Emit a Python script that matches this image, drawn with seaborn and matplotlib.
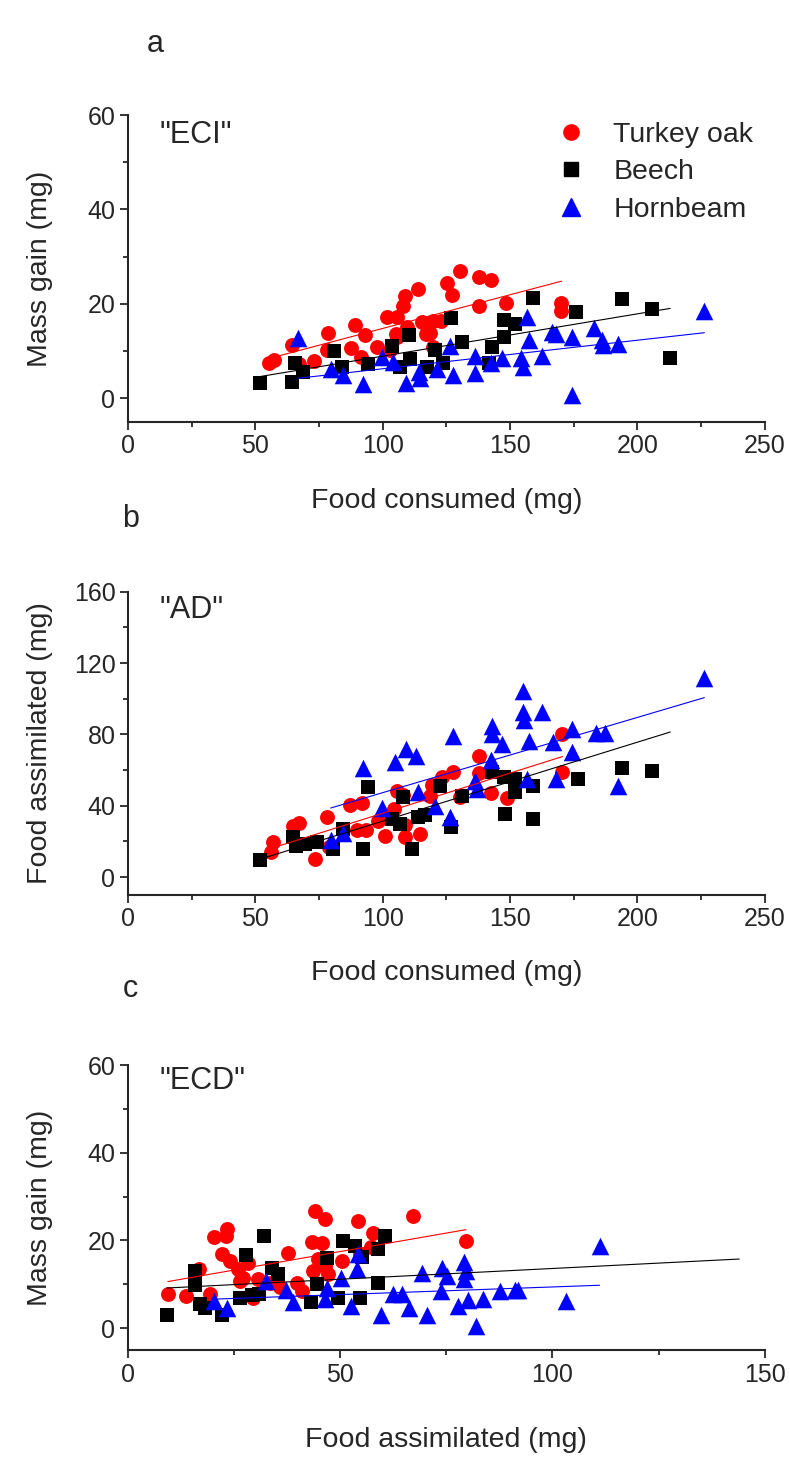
import numpy as np
import pandas as pd
import seaborn as sns
import matplotlib
matplotlib.use('Agg')
from matplotlib import pyplot as plt
from matplotlib.lines import Line2D
from matplotlib.ticker import MultipleLocator

# panel a, "ECI": mass gain vs food consumed
eci_oak_x = [55.3, 57.3, 64.3, 67.1, 72.9, 78.0, 78.4, 87.5, 89.0, 91.4, 92.9, 97.6, 101.6, 102.7, 105.5, 105.5,
             105.4, 107.8, 108.6, 109.4, 113.7, 115.3, 117.1, 118.4, 119.6, 119.6, 123.0, 125.1, 127.1, 130.2,
             138.0, 142.4, 138.0, 148.6, 170.2, 170.2]
eci_oak_y = [7.5, 8.0, 11.2, 7.3, 7.9, 10.3, 13.9, 10.7, 15.6, 8.8, 13.3, 10.9, 17.1, 10.3, 17.1, 12.9, 13.5,
             19.5, 21.6, 15.0, 23.1, 16.1, 13.5, 13.9, 16.3, 10.9, 16.4, 24.4, 21.8, 27.0, 25.7, 25.0, 19.5,
             20.1, 20.1, 18.4]
eci_beech_x = [51.8, 64.3, 65.5, 68.6, 80.8, 83.9, 94.1, 103.5, 106.7, 110.2, 110.6, 117.3, 120.4, 123.5, 126.7,
               131.0, 141.6, 143.1, 147.8, 147.5, 151.8, 159.2, 176.1, 194.1, 205.9, 212.9]
eci_beech_y = [3.3, 3.5, 7.5, 5.6, 9.9, 6.7, 7.3, 11.0, 6.5, 13.3, 8.2, 6.7, 10.3, 7.5, 16.9, 11.8, 7.5, 10.9,
               12.9, 16.5, 15.8, 21.2, 18.2, 21.0, 18.8, 8.6]
eci_horn_x = [66.7, 79.6, 84.3, 92.2, 99.6, 103.9, 109.0, 114.1, 114.5, 121.2, 126.3, 127.5, 136.1, 136.1, 142.4,
              146.7, 154.5, 154.9, 156.5, 157.6, 162.7, 166.3, 168.2, 174.5, 174.5, 183.1, 186.3, 186.7, 192.5,
              226.3]
eci_horn_y = [12.7, 6.2, 5.0, 3.0, 8.8, 7.7, 3.2, 5.6, 4.3, 6.2, 11.0, 5.0, 9.0, 5.4, 7.5, 8.6, 8.6, 6.5, 17.1,
              12.4, 9.0, 14.1, 13.5, 12.9, 0.7, 14.9, 12.4, 11.2, 11.4, 18.4]

# panel b, "AD": food assimilated vs food consumed
ad_oak_x = [56.1, 56.9, 64.7, 67.1, 73.3, 78.0, 78.8, 87.1, 91.8, 89.8, 93.3, 98.0, 100.8, 104.3, 105.5, 107.8,
            108.6, 108.6, 114.5, 119.2, 118.4, 123.1, 127.5, 130.2, 138.0, 138.0, 142.4, 149.0, 170.6, 170.6]
ad_oak_y = [14.1, 19.7, 28.7, 30.3, 10.2, 33.7, 17.0, 40.4, 41.5, 26.4, 26.4, 31.5, 23.1, 38.2, 48.2, 46.0, 29.2,
            22.5, 24.2, 51.6, 45.4, 56.0, 58.8, 44.9, 67.8, 58.3, 47.1, 44.3, 80.1, 58.9]
ad_beech_x = [51.8, 64.7, 65.9, 69.4, 74.1, 80.4, 84.3, 92.2, 94.1, 103.5, 106.7, 107.8, 111.4, 113.7, 116.5,
              122.4, 126.7, 131.0, 143.1, 147.8, 151.8, 151.8, 148.2, 159.2, 159.2, 176.5, 194.1, 205.9]
ad_beech_y = [9.7, 22.5, 17.6, 18.6, 19.7, 15.8, 27.0, 15.8, 50.4, 32.6, 29.8, 44.9, 15.8, 33.7, 34.8, 51.1, 28.1,
              45.5, 58.9, 56.0, 54.9, 47.6, 35.4, 51.1, 32.6, 54.9, 61.1, 59.5]
ad_horn_x = [79.6, 84.3, 92.2, 99.6, 104.7, 109.0, 112.9, 113.7, 120.4, 126.3, 127.5, 136.1, 136.9, 142.7, 143.1,
             143.1, 146.7, 154.9, 154.9, 155.3, 162.7, 157.3, 156.5, 166.7, 168.2, 174.5, 174.5, 183.9, 187.1,
             192.5, 226.3]
ad_horn_y = [20.8, 24.8, 61.1, 38.7, 64.4, 71.7, 67.8, 47.6, 40.0, 33.7, 79.0, 53.8, 49.4, 65.5, 84.6, 80.1, 74.5,
             104.2, 92.4, 88.0, 92.4, 76.2, 55.0, 75.6, 55.0, 82.9, 70.1, 80.6, 80.6, 51.1, 111.6]

# panel c, "ECD": mass gain vs food assimilated
ecd_oak_x = [9.4, 13.7, 16.7, 20.2, 23.3, 23.1, 22.1, 24.0, 25.9, 28.3, 27.1, 26.4, 19.3, 29.4, 30.6, 33.4, 37.7,
             35.8, 39.8, 41.0, 44.0, 46.4, 43.3, 45.7, 43.6, 44.7, 46.4, 47.1, 50.4, 54.2, 57.7, 57.2, 54.6,
             67.1, 79.6]
ecd_oak_y = [7.7, 7.3, 13.4, 20.8, 22.6, 21.0, 16.9, 15.3, 13.4, 14.8, 11.4, 10.7, 7.7, 6.8, 11.1, 10.2, 17.1, 9.3,
             10.4, 8.4, 26.7, 24.8, 19.6, 19.4, 13.0, 15.7, 14.1, 12.3, 15.4, 24.4, 21.7, 18.5, 16.9, 25.5, 19.8]
ecd_beech_x = [9.2, 15.8, 15.8, 17.0, 18.1, 22.1, 27.8, 32.0, 26.4, 29.2, 33.9, 35.3, 30.8, 43.1, 44.5, 46.9,
               50.6, 53.4, 49.4, 54.6, 55.1, 60.5, 58.9, 58.9]
ecd_beech_y = [2.9, 13.0, 9.8, 5.6, 4.7, 2.9, 16.6, 21.0, 6.8, 7.5, 13.6, 12.3, 7.7, 5.9, 10.0, 15.9, 19.8, 18.7,
               6.8, 6.8, 16.2, 21.0, 18.0, 10.2]
ecd_horn_x = [20.2, 23.3, 32.5, 37.2, 38.9, 46.9, 46.4, 50.2, 52.5, 54.2, 53.9, 59.6, 62.4, 64.5, 66.2, 69.2, 70.4,
              73.9, 75.1, 73.7, 79.1, 79.6, 79.1, 77.7, 80.1, 81.9, 83.6, 87.6, 91.1, 91.8, 103.1, 111.1]
ecd_horn_y = [6.1, 4.5, 10.7, 8.8, 5.9, 9.1, 6.6, 11.4, 5.0, 16.9, 13.4, 2.9, 7.7, 7.7, 4.5, 12.5, 3.1, 13.7, 11.8,
              8.4, 15.0, 13.0, 11.1, 5.0, 6.3, 0.4, 6.6, 8.4, 8.8, 8.8, 6.1, 18.7]

# fitted lines as drawn in the figure: intercept, slope, x from, x to
eci_fits = {'Turkey oak': (0.51, 0.1427, 55.3, 170.2),
            'Beech': (-0.07, 0.0897, 51.8, 212.9),
            'Hornbeam': (0.18, 0.0605, 66.7, 226.3)}
ad_fits = {'Turkey oak': (-9.2, 0.45, 56.1, 170.6),
           'Beech': (-12.9, 0.4426, 51.8, 212.9),
           'Hornbeam': (5.15, 0.4218, 79.6, 226.3)}
ecd_fits = {'Turkey oak': (9.03, 0.1686, 9.4, 79.6),
            'Beech': (8.70, 0.049, 9.2, 144.0),
            'Hornbeam': (5.9, 0.0349, 20.2, 111.1)}

species = ['Turkey oak', 'Beech', 'Hornbeam']
colors = {'Turkey oak': '#ff0000', 'Beech': '#000000', 'Hornbeam': '#0000ff'}
markers = {'Turkey oak': 'o', 'Beech': 's', 'Hornbeam': '^'}
msize = {'Turkey oak': 115, 'Beech': 95, 'Hornbeam': 160}

sns.set_style('ticks')
plt.rcParams['font.family'] = ['Liberation Sans', 'DejaVu Sans']


def make_df(oak, beech, horn):
    parts = []
    for name, (x, y) in zip(species, [oak, beech, horn]):
        parts.append(pd.DataFrame({'x': x, 'y': y, 'species': name}))
    return pd.concat(parts, ignore_index=True)


def draw_panel(ax, df, fits, xmax, ylim, ymajor, xlabel, ylabel, tag, tag_y):
    for sp in species:
        sub = df[df['species'] == sp]
        sns.scatterplot(data=sub, x='x', y='y', ax=ax, color=colors[sp], marker=markers[sp],
                        s=msize[sp], linewidth=0, legend=False, zorder=3)
    for sp in species:
        b0, b1, x0, x1 = fits[sp]
        xs = np.array([x0, x1])
        ax.plot(xs, b0 + b1 * xs, color=colors[sp], lw=0.8, zorder=4)
    ax.set_xlim(0, xmax)
    ax.set_ylim(*ylim)
    ax.xaxis.set_major_locator(MultipleLocator(50))
    ax.xaxis.set_minor_locator(MultipleLocator(25))
    ax.yaxis.set_major_locator(MultipleLocator(ymajor))
    ax.yaxis.set_minor_locator(MultipleLocator(ymajor / 2))
    ax.tick_params(which='major', direction='out', length=6, width=1.3, labelsize=18, pad=3)
    ax.tick_params(which='minor', direction='out', length=3.5, width=1.3)
    sns.despine(ax=ax)
    for s in ['left', 'bottom']:
        ax.spines[s].set_linewidth(1.5)
    ax.set_xlabel(xlabel, fontsize=20.5)
    ax.set_ylabel(ylabel, fontsize=20.5)
    ax.yaxis.set_label_coords(-0.118, 0.5)
    ax.text(0.05, tag_y, tag, transform=ax.transAxes, fontsize=22, va='top', ha='left')


fig = plt.figure(figsize=(7.9, 14.7), dpi=100)
ax_a = fig.add_axes([0.162, 0.7131, 0.806, 0.2086])
ax_b = fig.add_axes([0.162, 0.3912, 0.806, 0.2063])
ax_c = fig.add_axes([0.162, 0.0816, 0.806, 0.1939])

draw_panel(ax_a, make_df((eci_oak_x, eci_oak_y), (eci_beech_x, eci_beech_y), (eci_horn_x, eci_horn_y)),
           eci_fits, 250, (-5, 60), 20, 'Food consumed (mg)', 'Mass gain (mg)', '"ECI"', 0.985)
draw_panel(ax_b, make_df((ad_oak_x, ad_oak_y), (ad_beech_x, ad_beech_y), (ad_horn_x, ad_horn_y)),
           ad_fits, 250, (-10, 160), 40, 'Food consumed (mg)', 'Food assimilated (mg)', '"AD"', 0.99)
draw_panel(ax_c, make_df((ecd_oak_x, ecd_oak_y), (ecd_beech_x, ecd_beech_y), (ecd_horn_x, ecd_horn_y)),
           ecd_fits, 150, (-5, 60), 20, 'Food assimilated (mg)', 'Mass gain (mg)', '"ECD"', 0.995)

ax_a.xaxis.set_label_coords(0.5, -0.215)
ax_b.xaxis.set_label_coords(0.5, -0.215)
ax_c.xaxis.set_label_coords(0.5, -0.27)

handles = [Line2D([], [], linestyle='none', marker=markers[sp], color=colors[sp],
                  markersize={'Turkey oak': 11, 'Beech': 9.5, 'Hornbeam': 12.5}[sp], label=sp)
           for sp in species]
ax_a.legend(handles=handles, loc='upper left', bbox_to_anchor=(0.673, 0.979), frameon=False, fontsize=20.5,
            handlelength=1, handletextpad=1.0, borderpad=0, borderaxespad=0, labelspacing=0.41)

fig.text(0.196, 0.970, 'a', fontsize=22, ha='center', va='center')
fig.text(0.165, 0.647, 'b', fontsize=22, ha='center', va='center')
fig.text(0.165, 0.327, 'c', fontsize=22, ha='center', va='center')

fig.savefig('out.png', dpi=100)
